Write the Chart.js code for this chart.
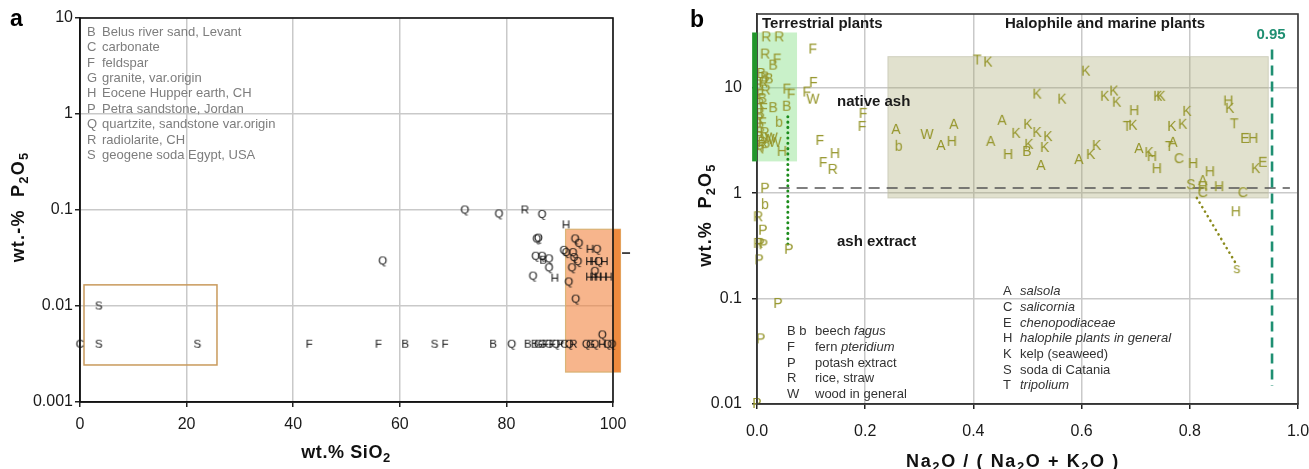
<!DOCTYPE html>
<html>
<head>
<meta charset="utf-8">
<script src="https://cdn.jsdelivr.net/npm/chart.js@4.4.1/dist/chart.umd.min.js"></script>
<style>
  html, body { margin: 0; padding: 0; background: #fff; width: 1309px; height: 469px; overflow: hidden; }
  canvas { position: absolute; top: 0; }
</style>
</head>
<body>
<canvas id="chartA" width="650" height="469" style="left:0"></canvas>
<canvas id="chartB" width="654" height="469" style="left:655px"></canvas>
<script>
// ---------- Panel a: geogenic materials, P2O5 vs SiO2 ----------
const geoLetters = [
  'C','S','S','F','F','B','S','F','B','Q','B','B','G','G','F','G','F','Q','P','C','Q','R','Q','G','Q','H','Q','Q',
  'S','Q',
  'Q','Q','R','Q','H','Q','Q','Q','Q','Q','Q','H','Q','Q','Q','Q','B','Q','Q','Q','H','H','Q','H',
  'Q','Q','Q','Q','H','Q','H','H','H','H','H','Q','Q'
];
const geoSiO2 = [
  0, 3.5, 22, 43, 56, 61, 66.5, 68.5, 77.5, 81, 84, 85.3, 86, 86.7, 87.3, 88, 88.6, 89.3, 90.1, 90.9, 91.8, 92.6, 95, 95.8, 96.6, 98, 99, 99.8,
  3.5, 98,
  72.2, 78.6, 83.5, 86.7, 91.2, 85.7, 86.0, 92.9, 93.6, 90.8, 91.2, 95.7, 97, 92.5, 85.5, 86.7, 86.9, 88, 92.7, 93.4, 95.6, 96.4, 97.3, 98.4,
  88, 92.3, 96.6, 85, 89.1, 91.7, 95.6, 96.4, 97.2, 98.2, 99.2, 93, 56.8
];
const geoP2O5 = [
  0.004, 0.004, 0.004, 0.004, 0.004, 0.004, 0.004, 0.004, 0.004, 0.004, 0.004, 0.004, 0.004, 0.004, 0.004, 0.004, 0.004, 0.004, 0.004, 0.004, 0.004, 0.004, 0.004, 0.004, 0.004, 0.004, 0.004, 0.004,
  0.01, 0.005,
  0.1, 0.091, 0.1, 0.09, 0.07, 0.05, 0.051, 0.05, 0.045, 0.038, 0.036, 0.039, 0.039, 0.036, 0.033, 0.033, 0.030, 0.031, 0.032, 0.029, 0.029, 0.029, 0.029, 0.029,
  0.025, 0.025, 0.023, 0.0205, 0.0195, 0.0178, 0.02, 0.02, 0.02, 0.02, 0.02, 0.0118, 0.0295
];
const aXTicks = [0, 20, 40, 60, 80, 100];
const aXLabels = ['0', '20', '40', '60', '80', '100'];
const aYTicks = [0.001, 0.01, 0.1, 1, 10];
const aYLabels = ['0.001', '0.01', '0.1', '1', '10'];
const geoLegendKeys = ['B', 'C', 'F', 'G', 'H', 'P', 'Q', 'R', 'S'];
const geoLegendNames = [
  'Belus river sand, Levant', 'carbonate', 'feldspar', 'granite, var.origin', 'Eocene Hupper earth, CH',
  'Petra sandstone, Jordan', 'quartzite, sandstone var.origin', 'radiolarite, CH', 'geogene soda Egypt, USA'
];
// value ranges [xMin, xMax, yMin, yMax]
const sodaField = [0.75, 25.7, 0.00243, 0.0166];
const quartzField = [91.1, 101.4, 0.00205, 0.063];
const quartzEdge = [100, 101.4, 0.00205, 0.063];

// ---------- Panel b: plant ashes, P2O5 vs Na2O/(Na2O+K2O) ----------
const plantLetters = [
  'R','R','R','F','B','B','B','B','R','B','R','F','B','R','F','B','R','F','B','R','B','W','R','F','P','R','W',
  'F','F','F','W','F','F','B','B','b','W','H','F','F','F','H','F','R',
  'P','b','R','P','R','P','P','P','P','P','P','P',
  'T','K','K','K','K','K','K','K','H','K','K','H','K','K','T','T','K','K','K','E','H',
  'A','b','W','A','A','H','A','A','K','K','K','K','K','B','K','H','A','A','K','K','A','K','H','H','T','A','C','H','H','K','E',
  'S','A','H','C','H','C','H','s'
];
const plantRatio = [
  0.017, 0.041, 0.015, 0.037, 0.030, 0.008, 0.015, 0.022, 0.012, 0.004, 0.016, 0.006, 0.010, 0.004, 0.012, 0.006, 0.003, 0.010, 0.006, 0.014, 0.004, 0.020, 0.010, 0.006, 0.016, 0.004, 0.026,
  0.103, 0.104, 0.092, 0.103, 0.055, 0.063, 0.055, 0.030, 0.041, 0.033, 0.046, 0.196, 0.194, 0.116, 0.144, 0.122, 0.140,
  0.015, 0.015, 0.002, 0.011, 0.002, 0.006, 0.012, 0.004, 0.059, 0.039, 0.007, 0.000,
  0.407, 0.427, 0.608, 0.518, 0.564, 0.643, 0.660, 0.665, 0.697, 0.741, 0.747, 0.871, 0.874, 0.795, 0.882, 0.684, 0.695, 0.767, 0.787, 0.902, 0.917,
  0.257, 0.262, 0.314, 0.364, 0.340, 0.360, 0.453, 0.432, 0.479, 0.501, 0.518, 0.538, 0.503, 0.499, 0.532, 0.464, 0.525, 0.595, 0.617, 0.628, 0.706, 0.725, 0.730, 0.739, 0.762, 0.769, 0.780, 0.806, 0.837, 0.922, 0.935,
  0.802, 0.824, 0.824, 0.824, 0.854, 0.898, 0.885, 0.887
];
const plantP2O5 = [
  30, 30, 20.6, 18.5, 16.2, 13.5, 12.5, 12, 11, 10.5, 9.4, 8.5, 7.8, 7, 6.3, 5.6, 5, 4.6, 4.1, 3.7, 3.4, 3.2, 3.0, 2.8, 2.7, 2.6, 3.3,
  23, 11.1, 9, 7.7, 9.6, 8.6, 6.6, 6.4, 4.65, 3.0, 2.46, 5.65, 4.25, 3.13, 2.35, 1.93, 1.66,
  1.1, 0.77, 0.59, 0.44, 0.33, 0.33, 0.32, 0.23, 0.29, 0.089, 0.041, 0.010,
  18.1, 17.3, 14.2, 8.6, 7.7, 8.2, 9.2, 7.2, 6.0, 8.2, 8.2, 7.4, 6.3, 5.9, 4.5, 4.25, 4.35, 4.25, 4.45, 3.27, 3.27,
  3.98, 2.75, 3.56, 4.44, 2.8, 3.06, 4.85, 3.06, 3.65, 4.44, 3.72, 3.4, 2.87, 2.46, 2.68, 2.3, 1.81, 2.06, 2.3, 2.8, 2.62, 2.4, 2.2, 1.69, 2.74, 3.0, 2.1, 1.89, 1.58, 1.69, 1.94,
  1.19, 1.3, 1.14, 1.0, 1.14, 1.0, 0.66, 0.19
];
const bXTicks = [0, 0.2, 0.4, 0.6, 0.8, 1.0];
const bXLabels = ['0.0', '0.2', '0.4', '0.6', '0.8', '1.0'];
const bYTicks = [0.01, 0.1, 1, 10];
const bYLabels = ['0.01', '0.1', '1', '10'];
const terrKeys = ['B b', 'F', 'P', 'R', 'W'];
const terrNames = [
  [['beech ', false], ['fagus', true]],
  [['fern ', false], ['pteridium', true]],
  [['potash extract', false]],
  [['rice, straw', false]],
  [['wood in general', false]]
];
const haloKeys = ['A', 'C', 'E', 'H', 'K', 'S', 'T'];
const haloNames = [
  [['salsola', true]],
  [['salicornia', true]],
  [['chenopodiaceae', true]],
  [['halophile plants in general', true]],
  [['kelp (seaweed)', false]],
  [['soda di Catania', false]],
  [['tripolium', true]]
];
// value ranges [xMin, xMax, yMin, yMax]
const terrBar = [-0.009, 0, 2, 33.4];
const terrField = [0, 0.074, 2, 33.4];
const haloField = [0.242, 0.945, 0.9, 19.7];
const extractLine = [0.057, 5.3, 0.3];       // x, yTop, yBottom
const ashLimit = [0.04, 0.985, 1.12];         // xFrom, xTo, y
const sodaLimit = [0.952, 23, 0.0148];        // x, yTop, yBottom
const catania = [0.813, 0.9, 0.884, 0.22];    // x1, y1, x2, y2

// ---------- shared helpers ----------
const FONT = '"Liberation Sans", Arial, Helvetica, sans-serif';
Chart.defaults.font.family = FONT;
Chart.defaults.color = '#1a1a1a';

const glyphCache = {};
function glyph(ch, size, color) {
  const key = ch + '|' + size + '|' + color;
  if (glyphCache[key]) return glyphCache[key];
  const c = document.createElement('canvas');
  const g = c.getContext('2d');
  const font = size + 'px ' + FONT;
  g.font = font;
  const w = Math.ceil(g.measureText(ch).width) + 2;
  const h = Math.ceil(size * 1.25);
  c.width = w; c.height = h;
  g.font = font;
  g.fillStyle = color;
  g.textAlign = 'center';
  g.textBaseline = 'middle';
  g.fillText(ch, w / 2, h / 2 + 0.5);
  glyphCache[key] = c;
  return c;
}

function fillRange(chart, r, fill, stroke, lw) {
  const { ctx, scales: { x, y } } = chart;
  const x0 = x.getPixelForValue(r[0]), x1 = x.getPixelForValue(r[1]);
  const y0 = y.getPixelForValue(r[3]), y1 = y.getPixelForValue(r[2]);
  ctx.save();
  if (fill) { ctx.fillStyle = fill; ctx.fillRect(x0, y0, x1 - x0, y1 - y0); }
  if (stroke) { ctx.strokeStyle = stroke; ctx.lineWidth = lw || 1; ctx.strokeRect(x0, y0, x1 - x0, y1 - y0); }
  ctx.restore();
}

function line(chart, xa, ya, xb, yb, color, width, dash, cap) {
  const { ctx, scales: { x, y } } = chart;
  ctx.save();
  ctx.strokeStyle = color;
  ctx.lineWidth = width;
  ctx.setLineDash(dash || []);
  ctx.lineCap = cap || 'butt';
  ctx.beginPath();
  ctx.moveTo(x.getPixelForValue(xa), y.getPixelForValue(ya));
  ctx.lineTo(x.getPixelForValue(xb), y.getPixelForValue(yb));
  ctx.stroke();
  ctx.restore();
}

// draws runs like [['wt.% SiO', 0], ['2', 1]] where 1 marks a subscript
function richText(ctx, runs, size, spacing, cx, cy, rotate) {
  ctx.save();
  const sub = Math.round(size * 0.7);
  ctx.letterSpacing = spacing + 'px';
  let total = 0;
  runs.forEach(r => {
    ctx.font = 'bold ' + (r[1] ? sub : size) + 'px ' + FONT;
    total += ctx.measureText(r[0]).width;
  });
  ctx.translate(cx, cy);
  if (rotate) ctx.rotate(-Math.PI / 2);
  ctx.fillStyle = '#111';
  ctx.textBaseline = 'alphabetic';
  let px = -total / 2;
  const base = size * 0.36;
  runs.forEach(r => {
    ctx.font = 'bold ' + (r[1] ? sub : size) + 'px ' + FONT;
    ctx.fillText(r[0], px, r[1] ? base + size * 0.22 : base);
    px += ctx.measureText(r[0]).width;
  });
  ctx.restore();
}

function mixedLine(ctx, parts, size, color, x, y) {
  ctx.save();
  ctx.fillStyle = color;
  ctx.textBaseline = 'middle';
  let px = x;
  parts.forEach(p => {
    ctx.font = (p[1] ? 'italic ' : '') + size + 'px ' + FONT;
    ctx.fillText(p[0], px, y);
    px += ctx.measureText(p[0]).width;
  });
  ctx.restore();
}

function frame(chart, color) {
  const { ctx, chartArea: a } = chart;
  ctx.save();
  ctx.strokeStyle = color;
  ctx.lineWidth = 1.6;
  ctx.strokeRect(a.left, a.top, a.right - a.left, a.bottom - a.top);
  ctx.restore();
}

function axisSetup(opts) {
  return {
    type: opts.type,
    min: opts.min,
    max: opts.max,
    afterBuildTicks: s => { s.ticks = opts.ticks.map(v => ({ value: v })); },
    afterFit: s => {
      if (opts.width) s.width = opts.width;
      if (opts.height) s.height = opts.height;
      s.paddingLeft = 0; s.paddingRight = 0; s.paddingTop = 0; s.paddingBottom = 0;
    },
    ticks: {
      autoSkip: false,
      maxRotation: 0,
      padding: opts.pad,
      color: '#1a1a1a',
      font: { size: 16 },
      callback: (v, i) => opts.labels[i]
    },
    grid: { color: '#c9c9c9', lineWidth: 1.5, tickColor: '#222', tickLength: 5, drawTicks: true },
    border: { display: true, color: '#222', width: 1.5 },
    title: { display: false }
  };
}

// ---------- Panel a ----------
const panelA = {
  id: 'panelA',
  beforeDatasetsDraw(chart) {
    fillRange(chart, quartzField, 'rgba(242,132,63,0.6)', 'rgba(214,176,110,0.9)', 1.2);
    fillRange(chart, quartzEdge, '#ef8a3e', null);
    fillRange(chart, sodaField, null, '#c99a5c', 1.5);
  },
  afterDatasetsDraw(chart) {
    frame(chart, '#111');
    line(chart, 101.7, 0.0356, 103.2, 0.0356, '#111', 1.5);
  },
  afterDraw(chart) {
    const ctx = chart.ctx;
    ctx.save();
    ctx.font = 'bold 23px ' + FONT;
    ctx.fillStyle = '#000';
    ctx.textBaseline = 'middle';
    ctx.fillText('a', 10, 20);
    ctx.restore();
    geoLegendKeys.forEach((k, i) => {
      const yy = 32.3 + i * 15.4;
      mixedLine(ctx, [[k, false]], 13, '#7d7d7d', 87, yy);
      mixedLine(ctx, [[geoLegendNames[i], false]], 13, '#7d7d7d', 102, yy);
    });
    richText(ctx, [['wt.% SiO', 0], ['2', 1]], 18, 0.6, 346, 452, false);
    richText(ctx, [['wt.-%  P', 0], ['2', 1], ['O', 0], ['5', 1]], 18, 1.2, 18, 207, true);
  }
};

new Chart(document.getElementById('chartA'), {
  type: 'scatter',
  data: {
    datasets: [{
      data: geoSiO2.map((v, i) => ({ x: v, y: geoP2O5[i] })),
      pointStyle: ctx => glyph(geoLetters[ctx.dataIndex] || 'Q', 11.5, '#111'),
      pointRadius: 4,
      clip: false
    }]
  },
  options: {
    responsive: false,
    animation: false,
    events: [],
    layout: { padding: { left: 0, right: 37, top: 18, bottom: 0 } },
    plugins: { legend: { display: false }, tooltip: { enabled: false } },
    scales: {
      x: axisSetup({ type: 'linear', min: 0, max: 100, ticks: aXTicks, labels: aXLabels, height: 67, pad: 8 }),
      y: axisSetup({ type: 'logarithmic', min: 0.001, max: 10, ticks: aYTicks, labels: aYLabels, width: 80, pad: 2 })
    }
  },
  plugins: [panelA]
});

// ---------- Panel b ----------
const panelB = {
  id: 'panelB',
  beforeDatasetsDraw(chart) {
    fillRange(chart, haloField, 'rgba(165,165,105,0.33)', 'rgba(195,195,175,0.7)', 1);
    fillRange(chart, terrField, 'rgba(120,220,120,0.4)', null);
    line(chart, extractLine[0], extractLine[1], extractLine[0], extractLine[2], '#1c8c1c', 3, [0.1, 5.2], 'round');
    line(chart, ashLimit[0], ashLimit[2], ashLimit[1], ashLimit[2], '#555', 1.6, [11, 7]);
    line(chart, catania[0], catania[1], catania[2], catania[3], '#8a8a1c', 2.6, [0.1, 5.2], 'round');
    line(chart, sodaLimit[0], sodaLimit[1], sodaLimit[0], sodaLimit[2], '#1f8f72', 2.6, [10, 6]);
  },
  afterDatasetsDraw(chart) {
    frame(chart, '#3a3a3a');
    fillRange(chart, terrBar, '#21962a', null);
  },
  afterDraw(chart) {
    const ctx = chart.ctx;
    ctx.save();
    ctx.fillStyle = '#000';
    ctx.textBaseline = 'middle';
    ctx.font = 'bold 23px ' + FONT;
    ctx.fillText('b', 35, 21);
    ctx.fillStyle = '#1a1a1a';
    ctx.font = 'bold 15px ' + FONT;
    ctx.fillText('Terrestrial plants', 107, 24);
    ctx.fillText('Halophile and marine plants', 350, 24);
    ctx.fillText('native ash', 182, 102);
    ctx.fillText('ash extract', 182, 242);
    ctx.fillStyle = '#1f8f72';
    ctx.textAlign = 'center';
    ctx.fillText('0.95', chart.scales.x.getPixelForValue(sodaLimit[0]) - 1, 35);
    ctx.restore();

    terrKeys.forEach((k, i) => {
      const yy = 331.7 + i * 15.7;
      mixedLine(ctx, [[k, false]], 13, '#333', 132, yy);
      mixedLine(ctx, terrNames[i], 13, '#333', 160, yy);
    });
    haloKeys.forEach((k, i) => {
      const yy = 291.7 + i * 15.67;
      mixedLine(ctx, [[k, false]], 13, '#333', 348, yy);
      mixedLine(ctx, haloNames[i], 13, '#333', 365, yy);
    });
    richText(ctx, [['Na', 0], ['2', 1], ['O / ( Na', 0], ['2', 1], ['O + K', 0], ['2', 1], ['O )', 0]], 18, 1.6, 358, 461, false);
    richText(ctx, [['wt.%  P', 0], ['2', 1], ['O', 0], ['5', 1]], 18, 1.2, 50, 215, true);
  }
};

new Chart(document.getElementById('chartB'), {
  type: 'scatter',
  data: {
    datasets: [{
      data: plantRatio.map((v, i) => ({ x: v, y: plantP2O5[i] })),
      pointStyle: ctx => glyph(plantLetters[ctx.dataIndex] || 'K', 14, '#95952a'),
      pointRadius: 4,
      clip: false
    }]
  },
  options: {
    responsive: false,
    animation: false,
    events: [],
    layout: { padding: { left: 0, right: 11, top: 14, bottom: 0 } },
    plugins: { legend: { display: false }, tooltip: { enabled: false } },
    scales: {
      x: axisSetup({ type: 'linear', min: 0, max: 1, ticks: bXTicks, labels: bXLabels, height: 65, pad: 13 }),
      y: axisSetup({ type: 'logarithmic', min: 0.01, max: 50, ticks: bYTicks, labels: bYLabels, width: 102, pad: 10 })
    }
  },
  plugins: [panelB]
});
</script>
</body>
</html>
